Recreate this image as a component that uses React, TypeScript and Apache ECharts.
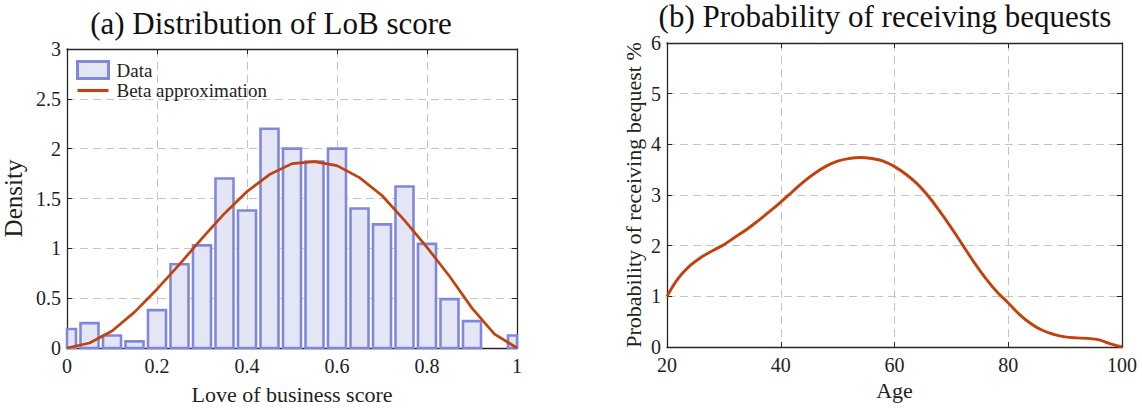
import React, { useEffect, useRef } from "react";
import * as echarts from "echarts";

// Panel (a): histogram of LoB score
const binCenters = [0, 0.05, 0.1, 0.15, 0.2, 0.25, 0.3, 0.35, 0.4, 0.45, 0.5, 0.55, 0.6, 0.65, 0.7, 0.75, 0.8, 0.85, 0.9, 0.95, 1.0];
const densityValues = [0.19, 0.25, 0.125, 0.066, 0.38, 0.84, 1.03, 1.7, 1.38, 2.2, 2.0, 1.87, 2.0, 1.4, 1.24, 1.62, 1.045, 0.49, 0.27, 0, 0.125];
const betaX = [0, 0.05, 0.1, 0.15, 0.2, 0.25, 0.3, 0.35, 0.4, 0.45, 0.5, 0.55, 0.6, 0.65, 0.7, 0.75, 0.8, 0.85, 0.9, 0.95, 1.0];
const betaY = [0, 0.05, 0.17, 0.36, 0.59, 0.84, 1.1, 1.35, 1.57, 1.74, 1.85, 1.87, 1.83, 1.71, 1.53, 1.28, 1.01, 0.72, 0.4, 0.14, 0];

// Panel (b): probability of receiving bequests
const ages = [20, 22, 24, 26, 28, 30, 32, 34, 36, 38, 40, 42, 44, 46, 48, 50, 52, 54, 56, 58, 60, 62, 64, 66, 68, 70, 72, 74, 76, 78, 80, 82, 84, 86, 88, 90, 92, 94, 96, 98, 100];
const bequestProb = [1.0, 1.36, 1.6, 1.77, 1.9, 2.02, 2.17, 2.32, 2.49, 2.67, 2.86, 3.06, 3.26, 3.43, 3.57, 3.67, 3.72, 3.74, 3.72, 3.67, 3.56, 3.41, 3.22, 2.97, 2.67, 2.35, 2.01, 1.67, 1.36, 1.09, 0.87, 0.64, 0.46, 0.33, 0.25, 0.2, 0.18, 0.17, 0.14, 0.06, 0.0];

const FONT = "Liberation Serif";
const AXIS_COLOR = "#262626";
const GRID_COLOR = "#c4c4c4";
const LINE_COLOR = "#c1420c";
const BAR_FILL = "#e4e6f6";
const BAR_EDGE = "#8089d9";
const BAR_HALF = 0.02;

function mainAxis(extra: any) {
  return {
    axisLine: { show: true, onZero: false, lineStyle: { color: AXIS_COLOR, width: 1.3 } },
    axisTick: { show: true, inside: true, length: 5, lineStyle: { color: AXIS_COLOR } },
    splitLine: { show: true, lineStyle: { color: GRID_COLOR, type: [8, 5], width: 1 } },
    nameLocation: "middle",
    ...extra,
  };
}

function mirrorAxis(extra: any) {
  return {
    axisLine: { show: true, onZero: false, lineStyle: { color: AXIS_COLOR, width: 1.3 } },
    axisTick: { show: true, inside: true, length: 5, lineStyle: { color: AXIS_COLOR } },
    axisLabel: { show: false },
    splitLine: { show: false },
    ...extra,
  };
}

const tickLabel = (margin: number) => ({ color: "#222", fontFamily: FONT, fontSize: 20, margin });
const nameStyle = (size: number) => ({ color: "#222", fontFamily: FONT, fontSize: size });

export default function App() {
  const ref = useRef<HTMLDivElement>(null);
  useEffect(() => {
    document.body.style.margin = "0";
    if (!ref.current) return;
    const chart = echarts.init(ref.current, null, { renderer: "svg" });
    const histData = binCenters.map((x, i) => [x, densityValues[i]]);
    const betaData = betaX.map((x, i) => [x, betaY[i]]);
    const bequestData = ages.map((a, i) => [a, bequestProb[i]]);
    chart.setOption({
      animation: false,
      backgroundColor: "#ffffff",
      title: [
        { text: "(a) Distribution of LoB score", left: 266, top: 3, textAlign: "center", textStyle: { fontFamily: FONT, fontSize: 31, fontWeight: "normal", color: "#111" } },
        { text: "(b) Probability of receiving bequests", left: 880, top: -4, textAlign: "center", textStyle: { fontFamily: FONT, fontSize: 31, fontWeight: "normal", color: "#111" } },
      ],
      legend: {
        left: 76,
        top: 60,
        padding: 0,
        orient: "vertical",
        itemWidth: 31,
        itemHeight: 17,
        itemGap: 1,
        textStyle: { fontFamily: FONT, fontSize: 19, color: "#222", padding: [0, 0, 0, 3] },
        data: [
          { name: "Data", icon: "rect", itemStyle: { color: BAR_FILL, borderColor: BAR_EDGE, borderWidth: 3 } },
          { name: "Beta approximation", icon: "path://M0,0H30V3H0Z", itemStyle: { color: LINE_COLOR } },
        ],
      },
      grid: [
        { left: 65, top: 49, width: 452, height: 303 },
        { left: 667, top: 43, width: 455, height: 304 },
      ],
      xAxis: [
        mainAxis({ type: "value", gridIndex: 0, min: 0, max: 1, interval: 0.2, name: "Love of business score", nameGap: 35, nameTextStyle: nameStyle(22), axisLabel: tickLabel(8) }),
        mirrorAxis({ type: "value", gridIndex: 0, min: 0, max: 1, interval: 0.2, position: "top" }),
        mainAxis({ type: "value", gridIndex: 1, min: 20, max: 100, interval: 20, name: "Age", nameGap: 32, nameTextStyle: nameStyle(22), axisLabel: tickLabel(8) }),
        mirrorAxis({ type: "value", gridIndex: 1, min: 20, max: 100, interval: 20, position: "top" }),
      ],
      yAxis: [
        mainAxis({ type: "value", gridIndex: 0, min: 0, max: 3, interval: 0.5, name: "Density", nameGap: 41, nameTextStyle: nameStyle(25), axisLabel: tickLabel(6) }),
        mirrorAxis({ type: "value", gridIndex: 0, min: 0, max: 3, interval: 0.5, position: "right" }),
        mainAxis({ type: "value", gridIndex: 1, min: 0, max: 6, interval: 1, name: "Probability of receiving bequest %", nameGap: 23, nameTextStyle: nameStyle(22), axisLabel: tickLabel(6) }),
        mirrorAxis({ type: "value", gridIndex: 1, min: 0, max: 6, interval: 1, position: "right" }),
      ],
      series: [
        {
          name: "Data",
          type: "custom",
          xAxisIndex: 0,
          yAxisIndex: 0,
          data: histData,
          encode: { x: 0, y: 1 },
          z: 2,
          renderItem: (params: any, api: any) => {
            const x = api.value(0);
            const y = api.value(1);
            if (!y) return null;
            const p0 = api.coord([x - BAR_HALF, y]);
            const p1 = api.coord([x + BAR_HALF, 0]);
            const cs = params.coordSys;
            const clipped = echarts.graphic.clipRectByRect(
              { x: p0[0], y: p0[1], width: p1[0] - p0[0], height: p1[1] - p0[1] },
              { x: cs.x, y: cs.y, width: cs.width, height: cs.height }
            );
            if (!clipped) return null;
            return {
              type: "rect",
              shape: clipped,
              style: { fill: BAR_FILL, stroke: BAR_EDGE, lineWidth: 2.6 },
            };
          },
        },
        {
          name: "Beta approximation",
          type: "line",
          xAxisIndex: 0,
          yAxisIndex: 0,
          data: betaData,
          symbol: "none",
          lineStyle: { color: LINE_COLOR, width: 2.7 },
          itemStyle: { color: LINE_COLOR },
          z: 3,
        },
        {
          name: "bequest",
          type: "line",
          xAxisIndex: 2,
          yAxisIndex: 2,
          data: bequestData,
          symbol: "none",
          smooth: 0.4,
          lineStyle: { color: LINE_COLOR, width: 2.9 },
          itemStyle: { color: LINE_COLOR },
          z: 3,
        },
      ],
    });
    return () => chart.dispose();
  }, []);
  return <div ref={ref} style={{ width: 1142, height: 410 }} />;
}
